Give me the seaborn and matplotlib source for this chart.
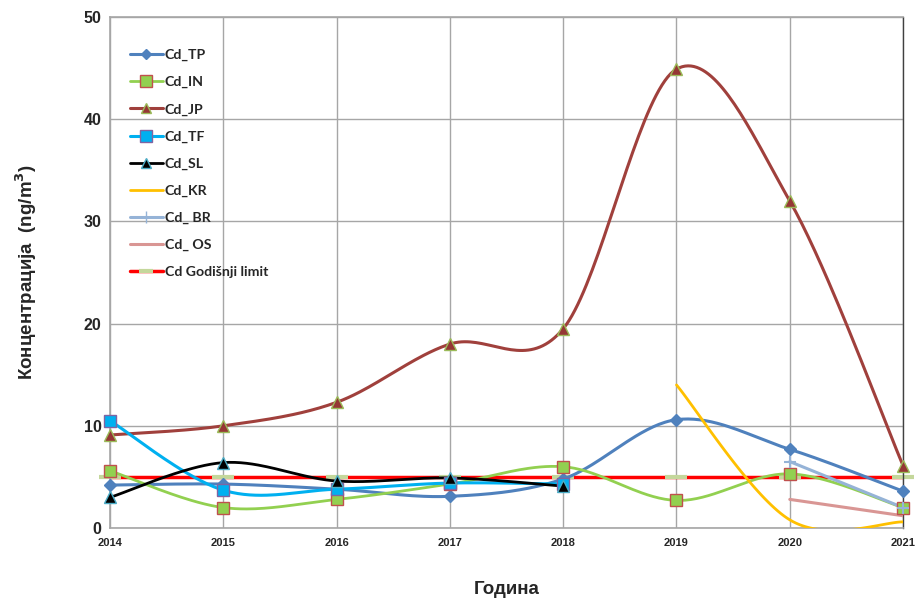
import numpy as np
import pandas as pd
import matplotlib
matplotlib.use("Agg")
import matplotlib.pyplot as plt
from matplotlib.lines import Line2D
import seaborn as sns

# data
years = [2014, 2015, 2016, 2017, 2018, 2019, 2020, 2021]
cd_tp = [4.2, 4.3, 3.8, 3.1, 4.8, 10.6, 7.7, 3.6]
cd_in = [5.6, 2.0, 2.8, 4.3, 6.0, 2.7, 5.3, 2.0]
cd_jp = [9.1, 10.0, 12.3, 18.0, 19.5, 44.9, 32.0, 6.1]
cd_tf = [10.5, 3.7, 3.8, 4.4, 4.3]
cd_sl = [3.0, 6.4, 4.6, 4.9, 4.1]
cd_kr = [14.0, 0.8, 0.6]
cd_br = [6.5, 2.0]
cd_os = [2.8, 1.2]
limit = [5] * len(years)

labels = ["Cd_TP", "Cd_IN", "Cd_JP", "Cd_TF", "Cd_SL", "Cd_KR", "Cd_ BR", "Cd_ OS", "Cd Godišnji limit"]


def smooth(x, y, n=40):
    # Excel-like smoothed line: bezier through the points
    p = np.column_stack([x, y]).astype(float)
    if len(p) < 3:
        return p[:, 0], p[:, 1]
    ext = np.vstack([p[0], p, p[-1]])
    out = []
    t = np.linspace(0, 1, n)[:, None]
    for i in range(len(p) - 1):
        p0, p1 = ext[i + 1], ext[i + 2]
        c1 = p0 + (ext[i + 2] - ext[i]) / 6
        c2 = p1 - (ext[i + 3] - ext[i + 1]) / 6
        seg = (1 - t) ** 3 * p0 + 3 * (1 - t) ** 2 * t * c1 + 3 * (1 - t) * t ** 2 * c2 + t ** 3 * p1
        out.append(seg if i == 0 else seg[1:])
    out = np.vstack(out)
    return out[:, 0], out[:, 1]


sns.set_style("white")
plt.rcParams["font.family"] = ["Liberation Sans", "DejaVu Sans"]

fig = plt.figure(figsize=(9.2, 5.99), dpi=100)
ax = fig.add_axes([0.1196, 0.1185, 0.8620, 0.8531])

series = [
    # values, x, color, marker, face, edge, size, lw
    (cd_tp, years, "#4F81BD", "D", "#4F81BD", "#4F81BD", 6, 2.2),
    (cd_in, years, "#92D050", "s", "#92D050", "#C0504D", 9, 2.0),
    (cd_jp, years, "#A0403C", "^", "#953735", "#9BBB59", 8, 2.2),
    (cd_tf, years[:5], "#00B0F0", "s", "#00B0F0", "#8064A2", 9, 2.2),
    (cd_sl, years[:5], "#000000", "^", "#000000", "#4BACC6", 8, 2.0),
    (cd_kr, years[5:], "#FFC000", None, None, None, 0, 2.0),
    (cd_br, years[6:], "#95B3D7", "+", "#95B3D7", "#95B3D7", 9, 2.2),
    (cd_os, years[6:], "#D99694", None, None, None, 0, 2.2),
]

handles = []
for vals, xs, col, mk, fc, ec, ms, lw in series:
    sx, sy = smooth(xs, vals)
    df = pd.DataFrame({"x": sx, "y": sy})
    sns.lineplot(data=df, x="x", y="y", sort=False, estimator=None, color=col, lw=lw, ax=ax, zorder=3)
    if mk is not None:
        ax.plot(xs, vals, ls="none", marker=mk, ms=ms, mfc=fc, mec=ec, mew=1.0 if mk != "+" else 1.5, zorder=4,
                clip_on=False)
    handles.append(Line2D([], [], color=col, lw=lw, marker=mk if mk else None, ms=ms * 0.9 if mk else 0,
                          mfc=fc, mec=ec))

# annual limit
sns.lineplot(x=years, y=limit, color="#FF0000", lw=2.5, ax=ax, zorder=2)
ax.plot(years, limit, ls="none", marker="_", ms=16, mew=3, color="#C4D79B", zorder=2, clip_on=False)
handles.append(Line2D([], [], color="#FF0000", lw=2.5, marker="_", ms=10, mew=3, mec="#C4D79B"))

ax.set_xlim(2014, 2021)
ax.set_ylim(0, 50)
ax.set_xticks(years)
ax.set_yticks(range(0, 51, 10))
ax.grid(True, color="#A6A6A6", lw=1.0)
ax.set_axisbelow(True)
for side in ["left", "bottom", "top"]:
    ax.spines[side].set_color("#A6A6A6")
    ax.spines[side].set_linewidth(1.2)
ax.spines["right"].set_color("#404040")
ax.spines["right"].set_linewidth(1.0)
ax.tick_params(axis="y", labelsize=11.5, length=4, color="#A6A6A6", pad=2)
ax.tick_params(axis="x", labelsize=8, length=4, color="#A6A6A6", pad=3)
for t in ax.get_xticklabels() + ax.get_yticklabels():
    t.set_fontweight("bold")

ax.set_xlabel("Година", fontsize=13.5, fontweight="bold", labelpad=24)
ax.set_ylabel("Концентрација  (ng/m$^\\mathbf{3}$)", fontsize=13.5, fontweight="bold", labelpad=32)

leg = ax.legend(handles, labels, loc="upper left", bbox_to_anchor=(0.009, 0.962), frameon=False,
                prop={"family": ["Lato", "DejaVu Sans"], "weight": "bold", "size": 10.2},
                labelspacing=1.05, handlelength=2.3, handletextpad=0.15, numpoints=1)

fig.savefig("out.png", dpi=100)
